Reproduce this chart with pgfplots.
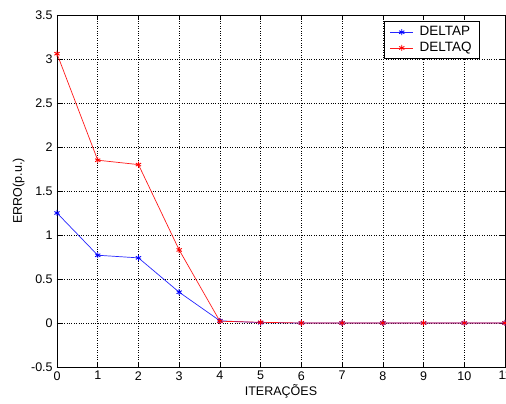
\documentclass[border=0pt]{standalone}
\usepackage{fontspec}
\setmainfont{Liberation Sans}
\usepackage{pgfplots}
\pgfplotsset{compat=1.18}
\begin{document}
\fontsize{12.5pt}{14pt}\selectfont
\begin{tikzpicture}[x=1pt,y=1pt]
\useasboundingbox (-57,-37) rectangle (449,367);
\begin{axis}[
  scale only axis,
  width=448pt, height=352pt,
  xmin=0, xmax=11, ymin=-0.5, ymax=3.5,
  xtick={0,...,11},
  ytick={-0.5,0,0.5,1,1.5,2,2.5,3,3.5},
  yticklabels={-0.5,0,0.5,1,1.5,2,2.5,3,3.5},
  /pgf/number format/assume math mode=true,
  tick align=inside,
  major tick length=5pt,
  xtick pos=both, ytick pos=both,
  grid=major,
  major grid style={black, dotted, line width=0.6pt},
  axis line style={black, line width=0.6pt},
  tick style={black, line width=0.6pt},
  xlabel={ITERAÇÕES},
  ylabel={ERRO(p.u.)},
  xlabel style={yshift=4pt},
  ylabel style={yshift=-2pt},
  ticklabel style={font=\fontsize{12.5pt}{14pt}\selectfont},
  label style={font=\fontsize{12.5pt}{14pt}\selectfont},
  legend image code/.code={\draw[mark repeat=2,mark phase=2] plot coordinates {(0pt,0pt) (11.5pt,0pt) (23pt,0pt)};},
  legend style={at={(0.944,0.982)}, anchor=north east, draw=black, line width=0.6pt,
    font=\fontsize{13.5pt}{15pt}\selectfont, row sep=0.5pt, inner xsep=6pt, inner ysep=3pt,
    /tikz/every odd column/.append style={column sep=4pt}},
  legend cell align=left,
]
\addplot[blue!85!white, line width=0.7pt, mark=asterisk, mark size=3pt, mark options={blue, line width=0.9pt}]
 coordinates {(0,1.25) (1,0.77) (2,0.74) (3,0.35) (4,0.025) (5,0.004) (6,0) (7,0) (8,0) (9,0) (10,0) (11,0)};
\addlegendentry{DELTAP}
\addplot[red!90!white, line width=0.7pt, mark=asterisk, mark size=3pt, mark options={red, line width=0.9pt}]
 coordinates {(0,3.06) (1,1.85) (2,1.80) (3,0.83) (4,0.02) (5,0.008) (6,0) (7,0) (8,0) (9,0) (10,0) (11,0)};
\addlegendentry{DELTAQ}
\end{axis}
\end{tikzpicture}
\end{document}
